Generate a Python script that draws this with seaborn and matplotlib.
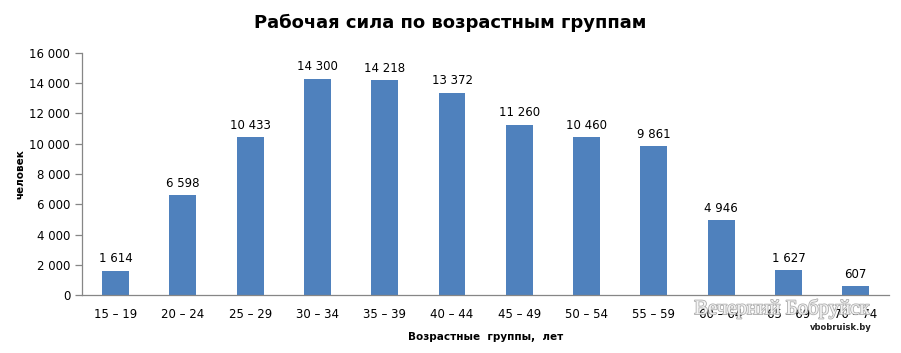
import matplotlib.pyplot as plt
import matplotlib.patheffects as pe
import matplotlib.ticker as mticker
import numpy as np
import pandas as pd
import seaborn as sns

# возрастные группы и численность рабочей силы
groups = ["15 – 19", "20 – 24", "25 – 29", "30 – 34", "35 – 39", "40 – 44",
          "45 – 49", "50 – 54", "55 – 59", "60 – 64", "65 – 69", "70 – 74"]
people = [1614, 6598, 10433, 14300, 14218, 13372, 11260, 10460, 9861, 4946, 1627, 607]

df = pd.DataFrame({"group": groups, "people": people})

sns.set_style("white")
plt.rcParams["font.family"] = ["DejaVu Sans"]
plt.rcParams["text.color"] = "black"
plt.rcParams["axes.labelcolor"] = "black"
plt.rcParams["xtick.color"] = "black"
plt.rcParams["ytick.color"] = "black"

fig = plt.figure(figsize=(9.01, 3.53), dpi=100)
ax = fig.add_axes([0.091, 0.164, 0.896, 0.686])

sns.barplot(data=df, x="group", y="people", color="#4F81BD", width=0.4,
            saturation=1, linewidth=0, ax=ax)

def fmt(v):
    return f"{int(v):,}".replace(",", " ")

for i, v in enumerate(people):
    ax.text(i, v + 350, fmt(v), ha="center", va="bottom", fontsize=8.5)

ax.set_ylim(0, 16000)
ax.set_xlim(-0.5, len(groups) - 0.5)
ax.yaxis.set_major_locator(mticker.MultipleLocator(2000))
ax.yaxis.set_major_formatter(mticker.FuncFormatter(lambda v, p: fmt(v)))

ax.set_xticks(np.arange(len(groups)))
ax.set_xticklabels(groups)
ax.set_xticks(np.arange(len(groups) + 1) - 0.5, minor=True)
ax.tick_params(axis="x", which="major", length=0, pad=9, labelsize=8.5)
ax.tick_params(axis="x", which="minor", length=5, color="#868686", width=0.9)
ax.tick_params(axis="y", which="major", length=5, color="#868686", width=0.9,
               labelsize=8.5, left=True)

sns.despine(ax=ax)
for s in ["left", "bottom"]:
    ax.spines[s].set_color("#868686")
    ax.spines[s].set_linewidth(0.9)

ax.set_xlabel("Возрастные  группы,  лет", fontsize=7.5, fontweight="bold", labelpad=8)
ax.set_ylabel("человек", fontsize=7.5, fontweight="bold", labelpad=3)

fig.text(0.5, 0.935, "Рабочая сила по возрастным группам", ha="center", va="center",
         fontsize=13, fontweight="bold")

# водяной знак поверх подписей
fig.text(0.868, 0.125, "Вечерний Бобруйск", ha="center", va="center", fontsize=15,
         family="Liberation Serif", color="white", alpha=0.85,
         path_effects=[pe.withStroke(linewidth=1.2, foreground="#a0a0a0")])
fig.text(0.967, 0.072, "vbobruisk.by", ha="right", va="center", fontsize=6,
         fontweight="bold", color="#222222")

fig.savefig("out.png", dpi=100)
